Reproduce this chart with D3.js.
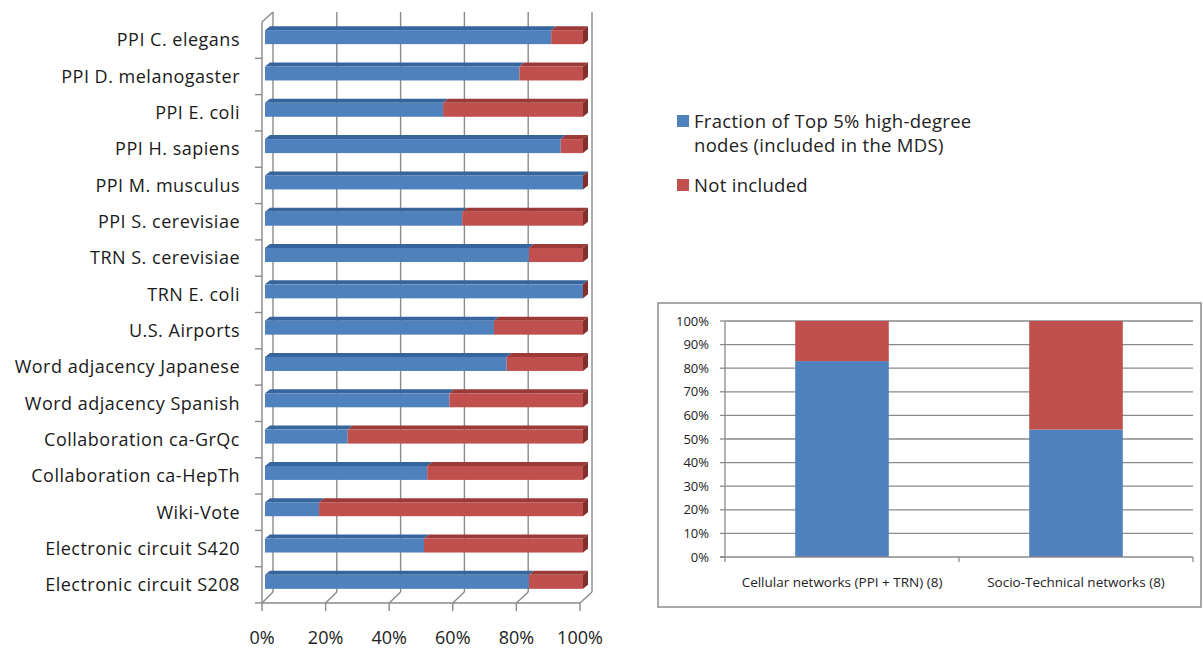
<!DOCTYPE html>
<html>
<head>
<meta charset="utf-8">
<script src="https://cdn.jsdelivr.net/npm/d3@7"></script>
<style>
  html, body { margin: 0; padding: 0; background: #fff; }
  svg { display: block; font-family: "Open Sans", Lato, sans-serif; }
</style>
</head>
<body>
<svg id="chart" width="1203" height="648"></svg>
<script>
// Networks in the left panel, top to bottom
const categories = [
  "PPI C. elegans", "PPI D. melanogaster", "PPI E. coli", "PPI H. sapiens",
  "PPI M. musculus", "PPI S. cerevisiae", "TRN S. cerevisiae", "TRN E. coli",
  "U.S. Airports", "Word adjacency Japanese", "Word adjacency Spanish",
  "Collaboration ca-GrQc", "Collaboration ca-HepTh", "Wiki-Vote",
  "Electronic circuit S420", "Electronic circuit S208"
];
// Share of top 5% high-degree nodes included in the MDS
const included    = [0.90, 0.80, 0.56, 0.93, 1.00, 0.62, 0.83, 1.00, 0.72, 0.76, 0.58, 0.26, 0.51, 0.17, 0.50, 0.83];
const notIncluded = [0.10, 0.20, 0.44, 0.07, 0.00, 0.38, 0.17, 0.00, 0.28, 0.24, 0.42, 0.74, 0.49, 0.83, 0.50, 0.17];
const leftTicks = [0, 0.2, 0.4, 0.6, 0.8, 1.0];

// Summary panel
const groups = ["Cellular networks (PPI + TRN) (8)", "Socio-Technical networks (8)"];
const groupIncluded    = [0.83, 0.54];
const groupNotIncluded = [0.17, 0.46];
const rightTicks = [0, 0.1, 0.2, 0.3, 0.4, 0.5, 0.6, 0.7, 0.8, 0.9, 1.0];

const seriesNames = ["Fraction of Top 5% high-degree nodes (included in the MDS)", "Not included"];

const BLUE = "#4f81bd", RED = "#c0504d";
const BLUE_TOP = "#36649c", RED_TOP = "#9b3a37";
const BLUE_SIDE = "#2c5283", RED_SIDE = "#842f2d";
const GRID = "#8a8a8a";
const pct = d3.format(".0%");

const svg = d3.select("#chart");

// ---------- Left panel: 3-D style 100% stacked bars ----------
const left = svg.append("g");
const frontY = 603, backY = 592, topY = 12;
const xFront = d3.scaleLinear().domain([0, 1]).range([262, 580]);
const xBack  = d3.scaleLinear().domain([0, 1]).range([273, 592]);
const xBar   = d3.scaleLinear().domain([0, 1]).range([265, 583]);
const y = d3.scaleBand().domain(categories).range([22, frontY]);
const dx = 5, dy = -4, barH = 14;

// back wall gridlines
left.selectAll("line.back").data(leftTicks).join("line")
  .attr("x1", d => xBack(d)).attr("x2", d => xBack(d))
  .attr("y1", topY).attr("y2", backY)
  .attr("stroke", GRID).attr("stroke-width", 1.4);
// floor diagonals
left.selectAll("line.floor").data(leftTicks).join("line")
  .attr("x1", d => xFront(d)).attr("x2", d => xBack(d))
  .attr("y1", frontY).attr("y2", backY)
  .attr("stroke", GRID).attr("stroke-width", 1.4);
// front axis line and ticks
left.append("line").attr("x1", xFront(0)).attr("x2", xFront(1))
  .attr("y1", frontY).attr("y2", frontY).attr("stroke", GRID).attr("stroke-width", 1.4);
left.selectAll("line.xtick").data(leftTicks).join("line")
  .attr("x1", d => xFront(d)).attr("x2", d => xFront(d))
  .attr("y1", frontY).attr("y2", frontY + 8)
  .attr("stroke", GRID).attr("stroke-width", 1.4);
left.selectAll("text.xlab").data(leftTicks).join("text")
  .attr("x", d => xFront(d)).attr("y", 644)
  .attr("text-anchor", "middle").attr("font-size", 18).attr("fill", "#222")
  .text(d => pct(d));

// side wall
left.append("line").attr("x1", xFront(0)).attr("x2", xFront(0))
  .attr("y1", 22).attr("y2", frontY).attr("stroke", GRID).attr("stroke-width", 1.4);
left.append("line").attr("x1", xFront(0)).attr("x2", xBack(0))
  .attr("y1", 22).attr("y2", topY).attr("stroke", GRID).attr("stroke-width", 1.4);
const bounds = categories.map(c => y(c)).concat([frontY]);
left.selectAll("line.ytick").data(bounds.slice(1)).join("line")
  .attr("x1", xFront(0) - 7).attr("x2", xFront(0))
  .attr("y1", d => d).attr("y2", d => d)
  .attr("stroke", GRID).attr("stroke-width", 1.4);

// category labels
left.selectAll("text.cat").data(categories).join("text")
  .attr("x", 240).attr("y", d => y(d) + y.bandwidth() / 2)
  .attr("dy", "0.35em").attr("text-anchor", "end")
  .attr("font-size", 18).attr("letter-spacing", "0.5px").attr("fill", "#1a1a1a")
  .text(d => d);

// stacked bars
const rows = categories.map((c, i) => ({ name: c, inc: included[i], not: notIncluded[i] }));
const stack = d3.stack().keys(["inc", "not"]);
const layers = stack(rows);
const faceCol = [BLUE, RED], topCol = [BLUE_TOP, RED_TOP], sideCol = [BLUE_SIDE, RED_SIDE];

layers.forEach((layer, k) => {
  const g = left.append("g");
  layer.forEach(seg => {
    const x0 = xBar(seg[0]), x1 = xBar(seg[1]);
    const yt = y(seg.data.name) + y.bandwidth() / 2 - 10;
    const yb = yt + barH;
    if (x1 > x0) {
      g.append("polygon")
        .attr("points", [[x0, yt], [x1, yt], [x1 + dx, yt + dy], [x0 + dx, yt + dy]].join(" "))
        .attr("fill", topCol[k]);
      g.append("rect").attr("x", x0).attr("y", yt)
        .attr("width", x1 - x0).attr("height", barH).attr("fill", faceCol[k]);
    }
    if (k === layers.length - 1) {
      g.append("polygon")
        .attr("points", [[x1, yt], [x1 + dx, yt + dy], [x1 + dx, yb + dy], [x1, yb]].join(" "))
        .attr("fill", sideCol[k]);
    }
  });
});

// ---------- Legend ----------
const legend = svg.append("g")
  .attr("font-size", 18.5).attr("letter-spacing", "0.3px").attr("fill", "#222");
legend.append("rect").attr("x", 677).attr("y", 115).attr("width", 12).attr("height", 12).attr("fill", BLUE);
legend.append("text").attr("x", 694).attr("y", 128).text("Fraction of Top 5% high-degree");
legend.append("text").attr("x", 694).attr("y", 152).text("nodes (included in the MDS)");
legend.append("rect").attr("x", 677).attr("y", 179).attr("width", 12).attr("height", 12).attr("fill", RED);
legend.append("text").attr("x", 694).attr("y", 192).text(seriesNames[1]);

// ---------- Right panel: summary stacked columns ----------
const right = svg.append("g");
right.append("rect").attr("x", 658).attr("y", 303).attr("width", 543).attr("height", 304)
  .attr("fill", "#fff").attr("stroke", "#8c8c8c").attr("stroke-width", 1.5);

const yR = d3.scaleLinear().domain([0, 1]).range([557, 321]);
const xR = d3.scaleBand().domain(groups).range([725, 1193]).paddingInner(0.6).paddingOuter(0.3);

right.selectAll("line.grid").data(rightTicks.slice(1)).join("line")
  .attr("x1", 725).attr("x2", 1193)
  .attr("y1", d => yR(d)).attr("y2", d => yR(d))
  .attr("stroke", GRID).attr("stroke-width", 1.3);

const gRows = groups.map((g, i) => ({ name: g, inc: groupIncluded[i], not: groupNotIncluded[i] }));
stack(gRows).forEach((layer, k) => {
  right.append("g").selectAll("rect").data(layer).join("rect")
    .attr("x", d => xR(d.data.name)).attr("width", xR.bandwidth())
    .attr("y", d => yR(d[1])).attr("height", d => yR(d[0]) - yR(d[1]))
    .attr("fill", faceCol[k]);
});

// axes
right.append("line").attr("x1", 725).attr("x2", 725).attr("y1", yR(1)).attr("y2", yR(0))
  .attr("stroke", GRID).attr("stroke-width", 1.3);
right.append("line").attr("x1", 720).attr("x2", 1193).attr("y1", yR(0)).attr("y2", yR(0))
  .attr("stroke", GRID).attr("stroke-width", 1.3);
right.selectAll("line.yt").data(rightTicks).join("line")
  .attr("x1", 720).attr("x2", 725).attr("y1", d => yR(d)).attr("y2", d => yR(d))
  .attr("stroke", GRID).attr("stroke-width", 1.3);
right.selectAll("line.xt").data([725, 959, 1193]).join("line")
  .attr("x1", d => d).attr("x2", d => d).attr("y1", yR(0)).attr("y2", yR(0) + 5)
  .attr("stroke", GRID).attr("stroke-width", 1.3);
right.selectAll("text.yl").data(rightTicks).join("text")
  .attr("x", 709).attr("y", d => yR(d)).attr("dy", "0.35em")
  .attr("text-anchor", "end").attr("font-size", 13).attr("fill", "#222")
  .text(d => pct(d));
right.selectAll("text.xl").data(groups).join("text")
  .attr("x", d => xR(d) + xR.bandwidth() / 2).attr("y", 587)
  .attr("text-anchor", "middle").attr("font-size", 13.5).attr("fill", "#222")
  .text(d => d);
</script>
</body>
</html>
